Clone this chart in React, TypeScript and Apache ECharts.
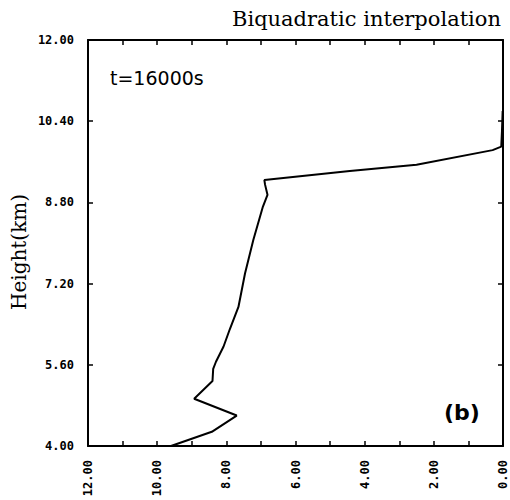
import React, { useEffect, useRef } from "react";
import * as echarts from "echarts";

const heights = [4.0, 4.28, 4.6, 4.93, 5.28, 5.52, 5.66, 5.96, 6.3, 6.74, 7.4, 8.06, 8.7, 8.95, 9.15, 9.24, 9.42, 9.54, 9.83, 9.9, 10.2, 10.6];
const values = [9.6, 8.42, 7.7, 8.93, 8.4, 8.38, 8.3, 8.08, 7.9, 7.65, 7.46, 7.22, 6.95, 6.81, 6.88, 6.9, 4.43, 2.5, 0.3, 0.05, 0.03, 0.01];
const yTicks = [4.0, 5.6, 7.2, 8.8, 10.4, 12.0];
const titleText = "Biquadratic interpolation";
const yAxisTitle = "Height(km)";
const timeLabel = "t=16000s";
const panelLabel = "(b)";

export default function App() {
  const ref = useRef<HTMLDivElement>(null);
  useEffect(() => {
    if (!ref.current) return;
    document.body.style.margin = "0";
    const chart = echarts.init(ref.current, null, { renderer: "svg" });
    const black = "#000";
    const tickFont = () => ({ fontFamily: "DejaVu Sans Mono", fontWeight: "bold" as const, fontSize: 12, color: black });
    const xAxisOf = (position: string, showLabels: boolean) => ({
      type: "value" as const,
      position,
      min: 0,
      max: 12,
      interval: 2,
      inverse: true,
      axisLine: { show: true, onZero: false, lineStyle: { color: black, width: 2 } },
      axisTick: { show: true, inside: true, length: 5, lineStyle: { color: black, width: 1.5 } },
      minorTick: { show: true, splitNumber: 2, length: 5, lineStyle: { color: black, width: 1.5 } },
      splitLine: { show: false },
      minorSplitLine: { show: false },
      axisLabel: showLabels
        ? { ...tickFont(), rotate: 90, margin: 14, formatter: (v: number) => v.toFixed(2) }
        : { show: false },
    });
    const yAxisOf = (position: string, showLabels: boolean) => ({
      type: "value" as const,
      position,
      min: 4,
      max: 12,
      axisLine: { show: true, onZero: false, lineStyle: { color: black, width: 2 } },
      axisTick: { show: true, inside: true, length: 5, customValues: yTicks.slice(), lineStyle: { color: black, width: 1.5 } },
      splitLine: { show: false },
      axisLabel: showLabels
        ? { ...tickFont(), margin: 14, customValues: yTicks.slice(), formatter: (v: number) => v.toFixed(2) }
        : { show: false },
    });
    chart.setOption({
      animation: false,
      backgroundColor: "#fff",
      grid: { left: 88, right: 7, top: 40, bottom: 54 },
      title: {
        text: titleText,
        right: 4,
        top: 3,
        textStyle: { fontFamily: "DejaVu Serif", fontWeight: "normal", fontSize: 21, color: black },
      },
      xAxis: [xAxisOf("bottom", true), xAxisOf("top", false)],
      yAxis: [yAxisOf("left", true), yAxisOf("right", false)],
      series: [
        {
          type: "line",
          data: values.map((v, i) => [v, heights[i]]),
          showSymbol: false,
          symbol: "none",
          lineStyle: { color: black, width: 2 },
          clip: true,
        },
      ],
      graphic: [
        {
          type: "text",
          x: 19,
          y: 252,
          rotation: Math.PI / 2,
          style: {
            text: yAxisTitle,
            font: "20px 'DejaVu Serif'",
            fill: black,
            align: "center",
            verticalAlign: "middle",
          },
        },
        {
          type: "text",
          left: 110,
          top: 68,
          style: { text: timeLabel, font: "19px 'DejaVu Sans'", fill: black },
        },
        {
          type: "text",
          left: 444,
          top: 401,
          style: { text: panelLabel, font: "bold 22px 'DejaVu Sans'", fill: black },
        },
      ],
    });
    return () => chart.dispose();
  }, []);
  return <div ref={ref} style={{ width: 510, height: 500 }} />;
}
